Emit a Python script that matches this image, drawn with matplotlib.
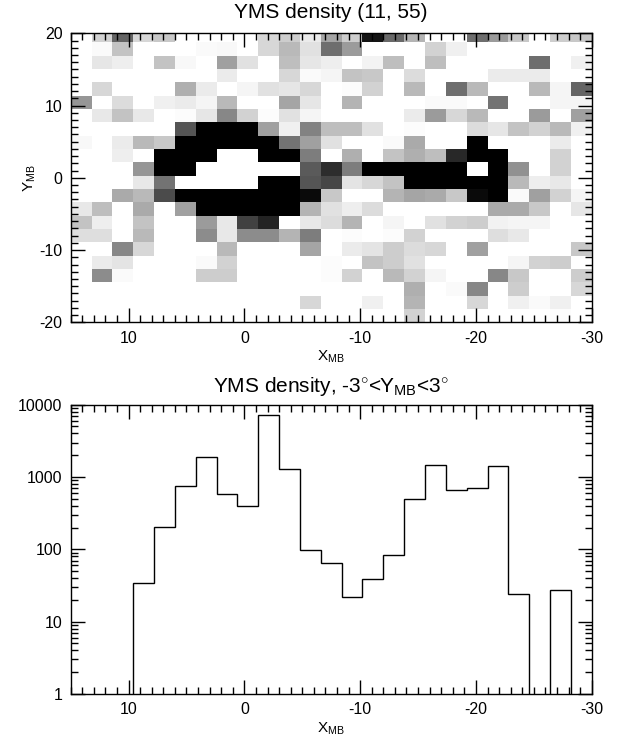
import matplotlib.pyplot as plt
import numpy as np
from matplotlib.ticker import MultipleLocator, LogLocator, NullFormatter, FixedLocator

plt.rcParams['font.family'] = ['Liberation Sans', 'DejaVu Sans']
plt.rcParams['mathtext.fontset'] = 'custom'
plt.rcParams['mathtext.rm'] = 'Liberation Sans'
plt.rcParams['mathtext.it'] = 'Liberation Sans'
plt.rcParams['mathtext.sf'] = 'Liberation Sans'
plt.rcParams['axes.unicode_minus'] = False

# bins (X_MB along columns, Y_MB along rows)
x_edges = np.linspace(15, -30, 26)
y_edges = -20 + 1.845 * np.arange(23)

# gray level of each cell, 0 = empty (white) .. 255 = saturated (black); rows listed top -> bottom
density = [
    [0, 45, 155, 40, 55, 0, 0, 0, 0, 40, 50, 20, 90, 50, 235, 150, 75, 0, 0, 145, 100, 55, 0, 50, 55],
    [0, 5, 60, 0, 0, 0, 5, 7, 0, 40, 70, 30, 145, 100, 0, 0, 0, 45, 15, 0, 0, 0, 0, 0, 0],
    [0, 25, 17, 0, 60, 7, 0, 95, 30, 0, 65, 25, 17, 0, 12, 65, 0, 65, 0, 0, 0, 0, 145, 0, 15],
    [0, 0, 0, 0, 0, 0, 0, 20, 0, 0, 40, 5, 10, 60, 55, 0, 35, 0, 0, 0, 20, 20, 20, 0, 0],
    [0, 40, 0, 0, 0, 80, 20, 0, 10, 30, 25, 40, 0, 3, 45, 0, 70, 0, 145, 70, 0, 0, 70, 10, 155],
    [105, 0, 35, 0, 15, 20, 10, 70, 0, 0, 90, 25, 0, 75, 0, 0, 0, 5, 5, 0, 140, 0, 0, 10, 10],
    [0, 23, 60, 23, 0, 3, 25, 120, 45, 3, 30, 10, 0, 0, 0, 0, 20, 100, 40, 70, 0, 0, 100, 0, 95],
    [0, 0, 0, 0, 0, 170, 255, 255, 255, 95, 15, 125, 65, 65, 30, 0, 3, 0, 0, 35, 25, 60, 45, 70, 15],
    [7, 0, 20, 70, 55, 255, 255, 255, 255, 255, 140, 95, 30, 0, 0, 5, 85, 0, 0, 255, 0, 0, 0, 20, 0],
    [0, 0, 17, 0, 255, 255, 255, 0, 0, 255, 255, 130, 0, 80, 0, 60, 80, 65, 215, 255, 255, 0, 0, 45, 0],
    [0, 0, 0, 105, 255, 255, 0, 0, 0, 0, 0, 165, 210, 130, 255, 255, 255, 255, 255, 0, 255, 110, 0, 45, 0],
    [0, 0, 0, 23, 140, 0, 0, 0, 0, 255, 255, 170, 185, 27, 40, 60, 255, 255, 255, 255, 255, 70, 17, 23, 0],
    [0, 0, 85, 70, 180, 255, 255, 255, 255, 255, 255, 245, 55, 0, 0, 75, 90, 85, 55, 245, 255, 5, 95, 45, 10],
    [23, 65, 0, 85, 0, 95, 255, 255, 255, 255, 255, 75, 30, 17, 35, 0, 0, 0, 0, 0, 85, 85, 55, 0, 25],
    [60, 17, 0, 60, 0, 0, 100, 23, 190, 220, 0, 23, 35, 75, 0, 10, 0, 30, 45, 50, 13, 10, 10, 0, 0],
    [33, 33, 0, 70, 0, 0, 115, 23, 115, 115, 75, 130, 0, 3, 0, 3, 45, 0, 0, 0, 33, 23, 0, 0, 0],
    [0, 0, 120, 40, 0, 0, 0, 70, 0, 0, 0, 90, 0, 20, 27, 50, 35, 40, 0, 95, 0, 0, 0, 0, 55],
    [0, 20, 27, 0, 0, 0, 5, 45, 0, 0, 0, 0, 3, 0, 60, 50, 30, 0, 0, 0, 0, 10, 45, 50, 0],
    [0, 115, 5, 0, 0, 0, 50, 50, 0, 0, 0, 0, 3, 45, 0, 70, 45, 10, 0, 0, 120, 55, 0, 0, 50],
    [0, 0, 0, 0, 0, 0, 0, 0, 0, 0, 0, 0, 0, 0, 0, 0, 80, 0, 5, 120, 0, 50, 0, 0, 40],
    [0, 0, 0, 0, 0, 0, 0, 0, 0, 0, 0, 40, 0, 0, 15, 0, 75, 0, 0, 40, 0, 15, 5, 15, 0],
    [0, 0, 0, 0, 0, 0, 0, 0, 0, 0, 0, 0, 0, 0, 0, 0, 45, 0, 0, 0, 0, 0, 0, 3, 0],
]

# counts in the strip -3 < Y_MB < 3, same X bins
counts = [0, 0, 0, 34, 202, 746, 1915, 590, 398, 7230, 1282, 98, 65, 22, 39,
          84, 493, 1456, 656, 706, 1410, 24, 0, 27, 0]

x_major = [10, 0, -10, -20, -30]


def style_axis(ax):
    ax.tick_params(which='both', direction='in', top=True, right=True, labelsize=11.5, width=1, pad=6)
    ax.tick_params(which='major', length=10)
    ax.tick_params(which='minor', length=5)
    for s in ax.spines.values():
        s.set_linewidth(1)


fig = plt.figure(figsize=(6.23, 7.42), dpi=100)

ax1 = fig.add_axes([0.1135, 0.5656, 0.8363, 0.3895])
ax1.pcolormesh(x_edges, y_edges, np.flipud(np.array(density)), cmap='gray_r', vmin=0, vmax=255)
ax1.set_xlim(15, -30)
ax1.set_ylim(-20, 20)
ax1.xaxis.set_major_locator(FixedLocator(x_major))
ax1.xaxis.set_minor_locator(MultipleLocator(1))
ax1.yaxis.set_major_locator(MultipleLocator(10))
ax1.yaxis.set_minor_locator(MultipleLocator(1))
style_axis(ax1)
ax1.set_title('YMS density (11, 55)', fontsize=15, pad=11)
ax1.set_xlabel('X$_{\\rm MB}$', fontsize=11, labelpad=2)
ax1.set_ylabel('Y$_{\\rm MB}$', fontsize=11, labelpad=1)

ax2 = fig.add_axes([0.1135, 0.0647, 0.8363, 0.3899])
ax2.set_yscale('log')
ax2.stairs(counts, x_edges, color='black', linewidth=1)
ax2.set_xlim(15, -30)
ax2.set_ylim(1, 10000)
ax2.xaxis.set_major_locator(FixedLocator(x_major))
ax2.xaxis.set_minor_locator(MultipleLocator(1))
ax2.set_yticks([1, 10, 100, 1000, 10000])
ax2.set_yticklabels(['1', '10', '100', '1000', '10000'])
ax2.yaxis.set_minor_locator(LogLocator(base=10, subs=np.arange(2, 10)))
ax2.yaxis.set_minor_formatter(NullFormatter())
style_axis(ax2)
ax2.set_title('YMS density, -3$^{\\circ}$<Y$_{\\rm MB}$<3$^{\\circ}$', fontsize=15, pad=9)
ax2.set_xlabel('X$_{\\rm MB}$', fontsize=11, labelpad=2)

fig.savefig('out.png', dpi=100)
